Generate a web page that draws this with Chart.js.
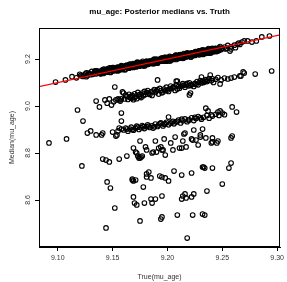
<!DOCTYPE html>
<html>
<head>
<meta charset="utf-8">
<script src="https://cdn.jsdelivr.net/npm/chart.js@4.4.1/dist/chart.umd.min.js"></script>
<style>
  html, body { margin: 0; padding: 0; background: #fff; }
</style>
</head>
<body>
<canvas id="grafico" width="287" height="282"></canvas>
<script>
// ticks
const xTicks = [9.10, 9.15, 9.20, 9.25, 9.30];
const yTicks = [8.6, 8.8, 9.0, 9.2];

// main band, medians close to the truth
const mainBand = [
  [9.098,9.102],[9.107,9.111],
  [9.113,9.125],[9.117,9.120],[9.120,9.135],[9.122,9.128],[9.124,9.132],[9.126,9.125],[9.128,9.140],[9.130,9.133],[9.131,9.147],[9.133,9.141],
  [9.121,9.131],[9.123,9.126],[9.125,9.136],[9.127,9.130],[9.129,9.137],[9.132,9.135],[9.126,9.141],[9.134,9.150],
  [9.134,9.144],[9.135,9.137],[9.136,9.149],[9.137,9.141],[9.138,9.144],[9.139,9.137],[9.140,9.151],[9.141,9.143],[9.142,9.157],[9.143,9.150],
  [9.144,9.144],[9.145,9.155],[9.146,9.150],[9.147,9.158],[9.148,9.144],[9.149,9.156],[9.150,9.152],[9.151,9.164],[9.152,9.150],[9.153,9.158],
  [9.154,9.164],[9.155,9.158],[9.156,9.163],[9.157,9.155],[9.158,9.172],[9.159,9.159],[9.160,9.165],[9.161,9.155],[9.162,9.172],[9.163,9.166],
  [9.164,9.171],[9.165,9.164],[9.166,9.176],[9.167,9.168],[9.168,9.171],[9.169,9.164],[9.170,9.178],[9.171,9.170],[9.172,9.184],[9.173,9.177],
  [9.174,9.171],[9.175,9.182],[9.176,9.177],[9.177,9.185],[9.178,9.171],[9.179,9.183],[9.180,9.179],[9.181,9.191],[9.182,9.177],[9.183,9.185],
  [9.184,9.191],[9.185,9.185],[9.186,9.190],[9.187,9.182],[9.188,9.199],[9.189,9.186],[9.190,9.192],[9.191,9.182],[9.192,9.199],[9.193,9.193],
  [9.194,9.198],[9.195,9.191],[9.196,9.203],[9.197,9.195],[9.198,9.198],[9.199,9.191],[9.200,9.205],[9.201,9.197],[9.202,9.211],[9.203,9.204],
  [9.204,9.198],[9.205,9.209],[9.206,9.204],[9.207,9.212],[9.208,9.198],[9.209,9.210],[9.210,9.206],[9.211,9.218],[9.212,9.204],[9.213,9.212],
  [9.214,9.218],[9.215,9.212],[9.216,9.217],[9.217,9.209],[9.218,9.226],[9.219,9.213],[9.220,9.219],[9.221,9.209],[9.222,9.226],[9.223,9.220],
  [9.224,9.225],[9.225,9.218],[9.226,9.230],[9.227,9.222],[9.228,9.225],[9.229,9.218],[9.230,9.232],[9.231,9.224],[9.232,9.238],[9.233,9.231],
  [9.234,9.225],[9.235,9.236],[9.236,9.231],[9.237,9.239],[9.238,9.225],[9.239,9.237],[9.240,9.233],[9.241,9.245],[9.242,9.231],[9.243,9.239],
  [9.244,9.245],[9.245,9.239],[9.246,9.244],[9.247,9.236],[9.248,9.253],[9.249,9.240],[9.250,9.246],
  [9.1385,9.1415],[9.1405,9.1525],[9.1425,9.1415],[9.1445,9.1525],[9.1465,9.1505],[9.1485,9.1615],[9.1505,9.1505],[9.1525,9.1615],
  [9.1545,9.1505],[9.1565,9.1605],[9.1585,9.1695],[9.1605,9.1625],[9.1625,9.1715],[9.1645,9.1625],[9.1665,9.1705],[9.1685,9.1805],
  [9.1705,9.1695],[9.1725,9.1785],[9.1745,9.1695],[9.1765,9.1845],[9.1785,9.1795],[9.1805,9.1865],[9.1825,9.1785],[9.1845,9.1885],
  [9.1865,9.1845],[9.1885,9.1965],[9.1905,9.1865],[9.1925,9.1935],[9.1945,9.2035],[9.1965,9.1945],[9.1985,9.1955],[9.2005,9.2065],
  [9.2025,9.1955],[9.2045,9.2065],[9.2065,9.2045],[9.2085,9.2155],[9.2105,9.2045],[9.2125,9.2155],[9.2145,9.2045],[9.2165,9.2145],
  [9.2185,9.2235],[9.2205,9.2165],[9.2225,9.2255],[9.2245,9.2165],[9.2265,9.2245],[9.2285,9.2345],[9.2305,9.2235],[9.2325,9.2325],
  [9.2345,9.2235],[9.2365,9.2385],[9.2385,9.2335],[9.2405,9.2405],[9.2425,9.2325],[9.2445,9.2425],
  [9.1355,9.1495],[9.1375,9.1395],[9.1395,9.1465],[9.1415,9.1385],[9.1435,9.1545],[9.1455,9.1485],[9.1475,9.1625],[9.1495,9.1485],
  [9.1515,9.1595],[9.1535,9.1575],[9.1555,9.1525],[9.1575,9.1675],[9.1595,9.1635],[9.1615,9.1545],[9.1635,9.1715],[9.1655,9.1775],
  [9.1675,9.1655],[9.1695,9.1745],[9.1715,9.1665],[9.1735,9.1835],[9.1755,9.1745],[9.1775,9.1905],[9.1795,9.1715],[9.1815,9.1845],
  [9.1835,9.1905],[9.1855,9.1805],[9.1875,9.1865],[9.1895,9.1985],[9.1915,9.1885],[9.1935,9.1975],[9.1955,9.2035],[9.1975,9.1935],
  [9.1995,9.2005],[9.2015,9.1925],[9.2035,9.2085],[9.2055,9.2025],[9.2075,9.2165],[9.2095,9.2025],[9.2115,9.2135],[9.2135,9.2115],
  [9.2155,9.2065],[9.2175,9.2215],[9.2195,9.2175],[9.2215,9.2085],[9.2235,9.2255],[9.2255,9.2315],[9.2275,9.2195],[9.2295,9.2285],
  [9.2315,9.2205],[9.2335,9.2375],[9.2355,9.2285],[9.2375,9.2445],[9.2395,9.2255],[9.2415,9.2385],[9.2435,9.2445],[9.2455,9.2345],
  [9.2475,9.2405],
  [9.1450,9.1450],[9.1475,9.1545],[9.1500,9.1640],[9.1525,9.1545],[9.1550,9.1500],[9.1575,9.1665],[9.1600,9.1640],[9.1625,9.1735],
  [9.1650,9.1610],[9.1675,9.1735],[9.1700,9.1690],[9.1725,9.1865],[9.1750,9.1770],[9.1775,9.1725],[9.1800,9.1880],[9.1825,9.1825],
  [9.1850,9.1910],[9.1875,9.1795],[9.1900,9.1990],[9.1925,9.1945],[9.1950,9.1910],[9.1975,9.2075],[9.2000,9.1970],[9.2025,9.1915],
  [9.2050,9.2070],[9.2075,9.2125],[9.2100,9.2030],[9.2125,9.2115],[9.2150,9.2230],[9.2175,9.2115],[9.2200,9.2210],[9.2225,9.2125],
  [9.2250,9.2280],[9.2275,9.2235],[9.2300,9.2340],[9.2325,9.2195],[9.2350,9.2360],[9.2375,9.2315],[9.2400,9.2370],
  [9.1370,9.1440],[9.1392,9.1382],[9.1414,9.1524],[9.1436,9.1466],[9.1458,9.1588],[9.1480,9.1430],[9.1502,9.1572],[9.1524,9.1524],
  [9.1546,9.1656],[9.1568,9.1608],[9.1590,9.1550],[9.1612,9.1692],[9.1634,9.1654],[9.1656,9.1776],[9.1678,9.1648],[9.1700,9.1760],
  [9.1722,9.1712],[9.1744,9.1844],[9.1766,9.1776],[9.1788,9.1718],[9.1810,9.1880],[9.1832,9.1822],[9.1854,9.1884],[9.1876,9.1986],
  [9.1898,9.1838],[9.1920,9.1930],[9.1942,9.1992],[9.1964,9.1914],[9.1986,9.2066],[9.2008,9.1988],[9.2030,9.2040],[9.2052,9.1982],
  [9.2074,9.2114],[9.2096,9.2056],[9.2118,9.2188],[9.2140,9.2030],[9.2162,9.2162],[9.2184,9.2114],[9.2206,9.2246],[9.2228,9.2208],
  [9.2250,9.2150],[9.2272,9.2282],[9.2294,9.2244],[9.2316,9.2376],[9.2338,9.2248],[9.2360,9.2350],[9.2382,9.2302],[9.2404,9.2434],
  [9.2426,9.2376],[9.2448,9.2318],[9.2470,9.2470],
  [9.237,9.226],[9.240,9.230],[9.253,9.243],[9.257,9.234],[9.258,9.243],[9.252,9.251],[9.255,9.258],[9.258,9.252],[9.261,9.259],
  [9.262,9.248],[9.254,9.246],[9.264,9.264],[9.265,9.268],[9.266,9.262],[9.268,9.272],[9.270,9.277],[9.273,9.277],[9.277,9.272],
  [9.281,9.277],[9.286,9.294],[9.293,9.298]
];

// second band, about 0.12 under the truth
const band2 = [
  [9.152,9.081],[9.191,9.111],
  [9.135,9.021],[9.138,8.996],[9.143,9.026],[9.147,9.030],[9.149,9.004],[9.153,9.026],[9.155,9.030],[9.157,9.021],[9.158,9.030],
  [9.156,9.026],[9.159,9.060],[9.160,9.055],[9.161,9.030],[9.164,9.028],[9.167,9.033],[9.169,9.027],[9.172,9.031],[9.175,9.042],
  [9.163,9.040],[9.165,9.050],[9.166,9.036],[9.168,9.045],[9.170,9.052],[9.171,9.040],[9.173,9.058],[9.174,9.047],[9.176,9.036],
  [9.177,9.055],[9.179,9.062],[9.180,9.049],[9.182,9.066],[9.183,9.053],[9.185,9.060],[9.186,9.045],[9.188,9.070],[9.189,9.058],
  [9.190,9.064],[9.192,9.051],[9.193,9.075],[9.194,9.066],[9.196,9.060],[9.197,9.072],[9.199,9.080],[9.200,9.068],[9.201,9.062],
  [9.203,9.085],[9.204,9.074],[9.205,9.079],[9.207,9.066],[9.208,9.090],[9.210,9.083],[9.211,9.076],[9.213,9.088],[9.214,9.095],
  [9.216,9.080],[9.217,9.092],[9.219,9.086],[9.220,9.099],[9.222,9.091],[9.224,9.083],[9.225,9.096],[9.227,9.104],[9.228,9.090],
  [9.230,9.108],[9.233,9.100],[9.235,9.112],[9.236,9.104],[9.238,9.117],[9.240,9.108],[9.242,9.100],[9.244,9.114],[9.246,9.121],
  [9.221,9.055],[9.220,9.047],[9.208,9.106],[9.209,9.106],[9.231,9.123],[9.239,9.132],[9.232,9.106],[9.231,9.098],[9.248,9.094],
  [9.249,9.111],[9.252,9.119],[9.255,9.115],[9.258,9.119],[9.261,9.123],[9.266,9.128],[9.267,9.128],[9.269,9.145],[9.270,9.140],
  [9.280,9.136],[9.295,9.149],
  [9.162,9.046],[9.167,9.042],[9.170,9.035],[9.175,9.050],[9.178,9.044],[9.181,9.058],[9.184,9.049],[9.187,9.063],[9.191,9.070],
  [9.195,9.056],[9.198,9.066],[9.202,9.074],[9.206,9.082],[9.209,9.072],[9.212,9.084],[9.215,9.088],[9.218,9.096],[9.221,9.087],
  [9.226,9.092],[9.229,9.100],[9.234,9.106],[9.237,9.110],[9.241,9.116],[9.145,9.012],[9.151,9.018]
];

// third band, near 8.9
const band3 = [
  [9.118,8.983],[9.123,8.936],[9.127,8.885],[9.130,8.894],[9.135,8.877],[9.140,8.877],[9.141,8.885],[9.150,8.889],[9.153,8.872],
  [9.154,8.877],[9.155,8.894],[9.158,8.902],[9.158,8.970],[9.156,8.906],[9.158,8.936],
  [9.160,8.898],[9.162,8.906],[9.164,8.893],[9.166,8.902],[9.167,8.910],[9.169,8.897],[9.171,8.905],[9.172,8.914],[9.174,8.900],
  [9.176,8.908],[9.177,8.917],[9.179,8.904],[9.181,8.912],[9.182,8.920],[9.184,8.909],[9.186,8.916],[9.187,8.906],[9.189,8.923],
  [9.191,8.913],[9.192,8.919],[9.194,8.928],[9.196,8.915],[9.197,8.922],[9.199,8.931],[9.201,8.920],[9.203,8.927],[9.205,8.935],
  [9.206,8.924],[9.208,8.932],[9.210,8.940],[9.212,8.928],[9.214,8.937],[9.216,8.945],[9.218,8.933],[9.220,8.941],[9.222,8.950],
  [9.224,8.938],[9.226,8.947],[9.228,8.955],[9.231,8.944],[9.233,8.952],[9.236,8.960],[9.238,8.948],[9.241,8.957],[9.244,8.965],
  [9.247,8.960],[9.250,8.970],[9.252,8.963],
  [9.201,8.953],[9.215,8.881],[9.224,8.898],[9.232,8.902],[9.235,8.991],[9.237,8.979],[9.259,8.996],[9.263,8.974],[9.246,8.974],
  [9.248,8.979],[9.230,8.877],
  [9.163,8.902],[9.168,8.900],[9.173,8.910],[9.178,8.912],[9.183,8.915],[9.188,8.912],[9.193,8.925],[9.198,8.925],[9.204,8.932],
  [9.209,8.935],[9.213,8.944],[9.219,8.940],[9.225,8.952],[9.230,8.950],[9.240,8.962]
];

// scattered low medians
const scatterLow = [
  [9.092,8.843],[9.108,8.860],[9.122,8.745],[9.141,8.774],[9.144,8.770],[9.147,8.762],[9.156,8.774],[9.163,8.787],[9.175,8.851],
  [9.169,8.821],[9.172,8.800],[9.173,8.787],[9.174,8.779],[9.176,8.783],[9.177,8.787],[9.175,8.779],[9.171,8.804],[9.180,8.826],
  [9.181,8.813],[9.186,8.800],[9.187,8.804],[9.189,8.851],[9.190,8.804],[9.192,8.821],[9.194,8.826],[9.195,8.813],[9.196,8.813],
  [9.198,8.791],[9.197,8.860],[9.203,8.843],[9.205,8.813],[9.207,8.868],[9.211,8.821],[9.213,8.821],[9.214,8.851],[9.216,8.885],
  [9.217,8.826],[9.222,8.860],[9.223,8.855],[9.226,8.855],[9.228,8.834],[9.230,8.868],[9.235,8.864],[9.240,8.843],[9.241,8.847],
  [9.241,8.864],[9.246,8.851],[9.245,8.843],[9.258,8.864],[9.259,8.872],
  [9.145,8.677],[9.148,8.651],[9.168,8.689],[9.169,8.681],[9.168,8.685],[9.171,8.685],[9.178,8.655],[9.181,8.711],[9.183,8.719],
  [9.185,8.694],[9.181,8.698],[9.193,8.702],[9.195,8.698],[9.198,8.694],[9.201,8.681],[9.206,8.723],[9.213,8.706],[9.222,8.715],
  [9.232,8.740],[9.233,8.740],[9.234,8.736],[9.241,8.736],[9.256,8.736],[9.258,8.757],[9.250,8.668],[9.236,8.638],
  [9.169,8.613],[9.170,8.587],[9.172,8.579],[9.179,8.587],[9.185,8.604],[9.186,8.587],[9.189,8.604],[9.195,8.617],[9.152,8.566],
  [9.144,8.481],[9.175,8.511],[9.194,8.519],[9.195,8.528],[9.209,8.536],[9.213,8.604],[9.214,8.617],[9.216,8.626],[9.217,8.609],
  [9.222,8.613],[9.224,8.626],[9.218,8.438],[9.223,8.536],[9.232,8.540],[9.234,8.536]
];

// identity line y = x
const lineaIdentidad = [[9.08, 9.08], [9.31, 9.31]];

const fuente = '"Liberation Sans", Arial, Helvetica, sans-serif';
const aPuntos = arr => arr.map(p => ({ x: p[0], y: p[1] }));

function serie(arr) {
  return {
    type: 'scatter',
    data: aPuntos(arr),
    order: 1,
    pointStyle: 'circle',
    pointRadius: 2.3,
    pointBorderWidth: 1.1,
    pointBorderColor: '#000',
    pointBackgroundColor: 'rgba(0,0,0,0)',
    pointHoverRadius: 2.3
  };
}

// box, title and axis labels
const marcoYTextos = {
  id: 'marcoYTextos',
  afterDraw(chart) {
    const ctx = chart.ctx;
    const a = chart.chartArea;
    ctx.save();
    ctx.strokeStyle = '#000';
    ctx.lineWidth = 1;
    ctx.strokeRect(Math.round(a.left) + 0.5, Math.round(a.top) + 0.5,
      Math.round(a.right - a.left) - 1, Math.round(a.bottom - a.top) - 1);

    ctx.fillStyle = '#000';
    ctx.textAlign = 'center';
    ctx.textBaseline = 'middle';
    ctx.font = 'bold 8px ' + fuente;
    ctx.fillText('mu_age: Posterior medians vs. Truth', (a.left + a.right) / 2, 12);

    ctx.fillStyle = '#333';
    ctx.font = '7px ' + fuente;
    ctx.fillText('True(mu_age)', (a.left + a.right) / 2, 277);

    ctx.translate(12, (a.top + a.bottom) / 2);
    ctx.rotate(-Math.PI / 2);
    ctx.fillText('Median(mu_age)', 0, 0);
    ctx.restore();
  }
};

new Chart(document.getElementById('grafico'), {
  data: {
    datasets: [
      {
        type: 'line',
        data: aPuntos(lineaIdentidad),
        order: 0,
        borderColor: '#ff0000',
        borderWidth: 1.2,
        pointRadius: 0,
        fill: false
      },
      serie(mainBand),
      serie(band2),
      serie(band3),
      serie(scatterLow)
    ]
  },
  options: {
    responsive: false,
    animation: false,
    devicePixelRatio: 1,
    layout: { padding: { top: 28, right: 4, left: 0, bottom: 0 } },
    plugins: { legend: { display: false }, tooltip: { enabled: false } },
    scales: {
      x: {
        type: 'linear',
        min: 9.0829,
        max: 9.3027,
        afterBuildTicks: s => { s.ticks = xTicks.map(v => ({ value: v })); },
        afterFit: s => { s.height = 35; },
        ticks: {
          callback: v => v.toFixed(2),
          font: { size: 7, family: fuente },
          color: '#333',
          padding: 3,
          maxRotation: 0,
          minRotation: 0
        },
        grid: { drawOnChartArea: false, drawTicks: true, tickLength: 4, color: '#000', lineWidth: 1 },
        border: { display: true, color: '#000', width: 1 }
      },
      y: {
        type: 'linear',
        min: 8.400,
        max: 9.332,
        afterBuildTicks: s => { s.ticks = yTicks.map(v => ({ value: v })); },
        afterFit: s => { s.width = 39; },
        ticks: {
          callback: v => v.toFixed(1),
          font: { size: 7, family: fuente },
          color: '#333',
          padding: 2,
          minRotation: 90,
          maxRotation: 90,
          crossAlign: 'center'
        },
        grid: { drawOnChartArea: false, drawTicks: true, tickLength: 4, color: '#000', lineWidth: 1 },
        border: { display: true, color: '#000', width: 1 }
      }
    }
  },
  plugins: [marcoYTextos]
});
</script>
</body>
</html>
